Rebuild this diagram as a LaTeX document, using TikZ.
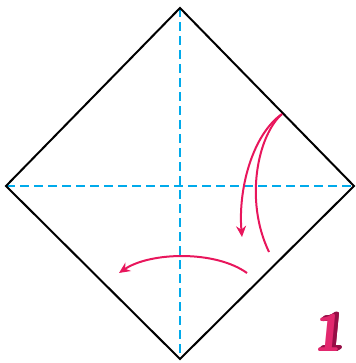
\documentclass[tikz,border=0pt]{standalone}
\usetikzlibrary{arrows.meta}
\definecolor{foldcyan}{RGB}{0,170,235}
\definecolor{foldpink}{RGB}{232,22,92}
\definecolor{numfront}{RGB}{226,40,110}
\definecolor{numside}{RGB}{150,14,70}

\begin{document}
\begin{tikzpicture}[x=1pt,y=-1pt,
    edge/.style={line width=2pt,black,line join=miter},
    crease/.style={line width=2pt,foldcyan,dash pattern=on 9pt off 5pt},
    turn/.style={line width=2pt,foldpink},
    tip/.style={-{Stealth[length=11pt,width=10pt]}},
    stepnum/.style={font=\fontsize{52}{52}\sffamily\bfseries,inner sep=0pt,xslant=0.1}]
    \useasboundingbox (0,0) rectangle (355,363);

    % corners of the square sheet
    \coordinate (top) at (180,8);
    \coordinate (left) at (6,186);
    \coordinate (right) at (354,186);
    \coordinate (bottom) at (180,359);
    \coordinate (centre) at (180,186);

    \draw[crease] (left) -- (right);
    \draw[crease] (top) -- (bottom);
    \draw[edge] (top) -- (right) -- (bottom) -- (left) -- cycle;

    % folding arrows
    \coordinate (pivot) at (282,114);
    \coordinate (curlend) at (269,252);
    \coordinate (curltip) at (242,237);
    \coordinate (turnstart) at (247,273);
    \coordinate (turntip) at (119,273);
    \draw[turn,tip] (pivot) .. controls (252,135) and (238,190) .. (curltip);
    \draw[turn] (pivot) .. controls (258,135) and (244,200) .. (curlend);
    \draw[turn,tip] (turnstart) .. controls (215,250) and (150,252) .. (turntip);

    % step number
    \foreach \d in {0.5,1,...,4}
        \node[stepnum,text=numside] at (330+\d,333-0.6*\d) {1};
    \node[stepnum,text=numfront] (step) at (330,333) {1};
\end{tikzpicture}
\end{document}
